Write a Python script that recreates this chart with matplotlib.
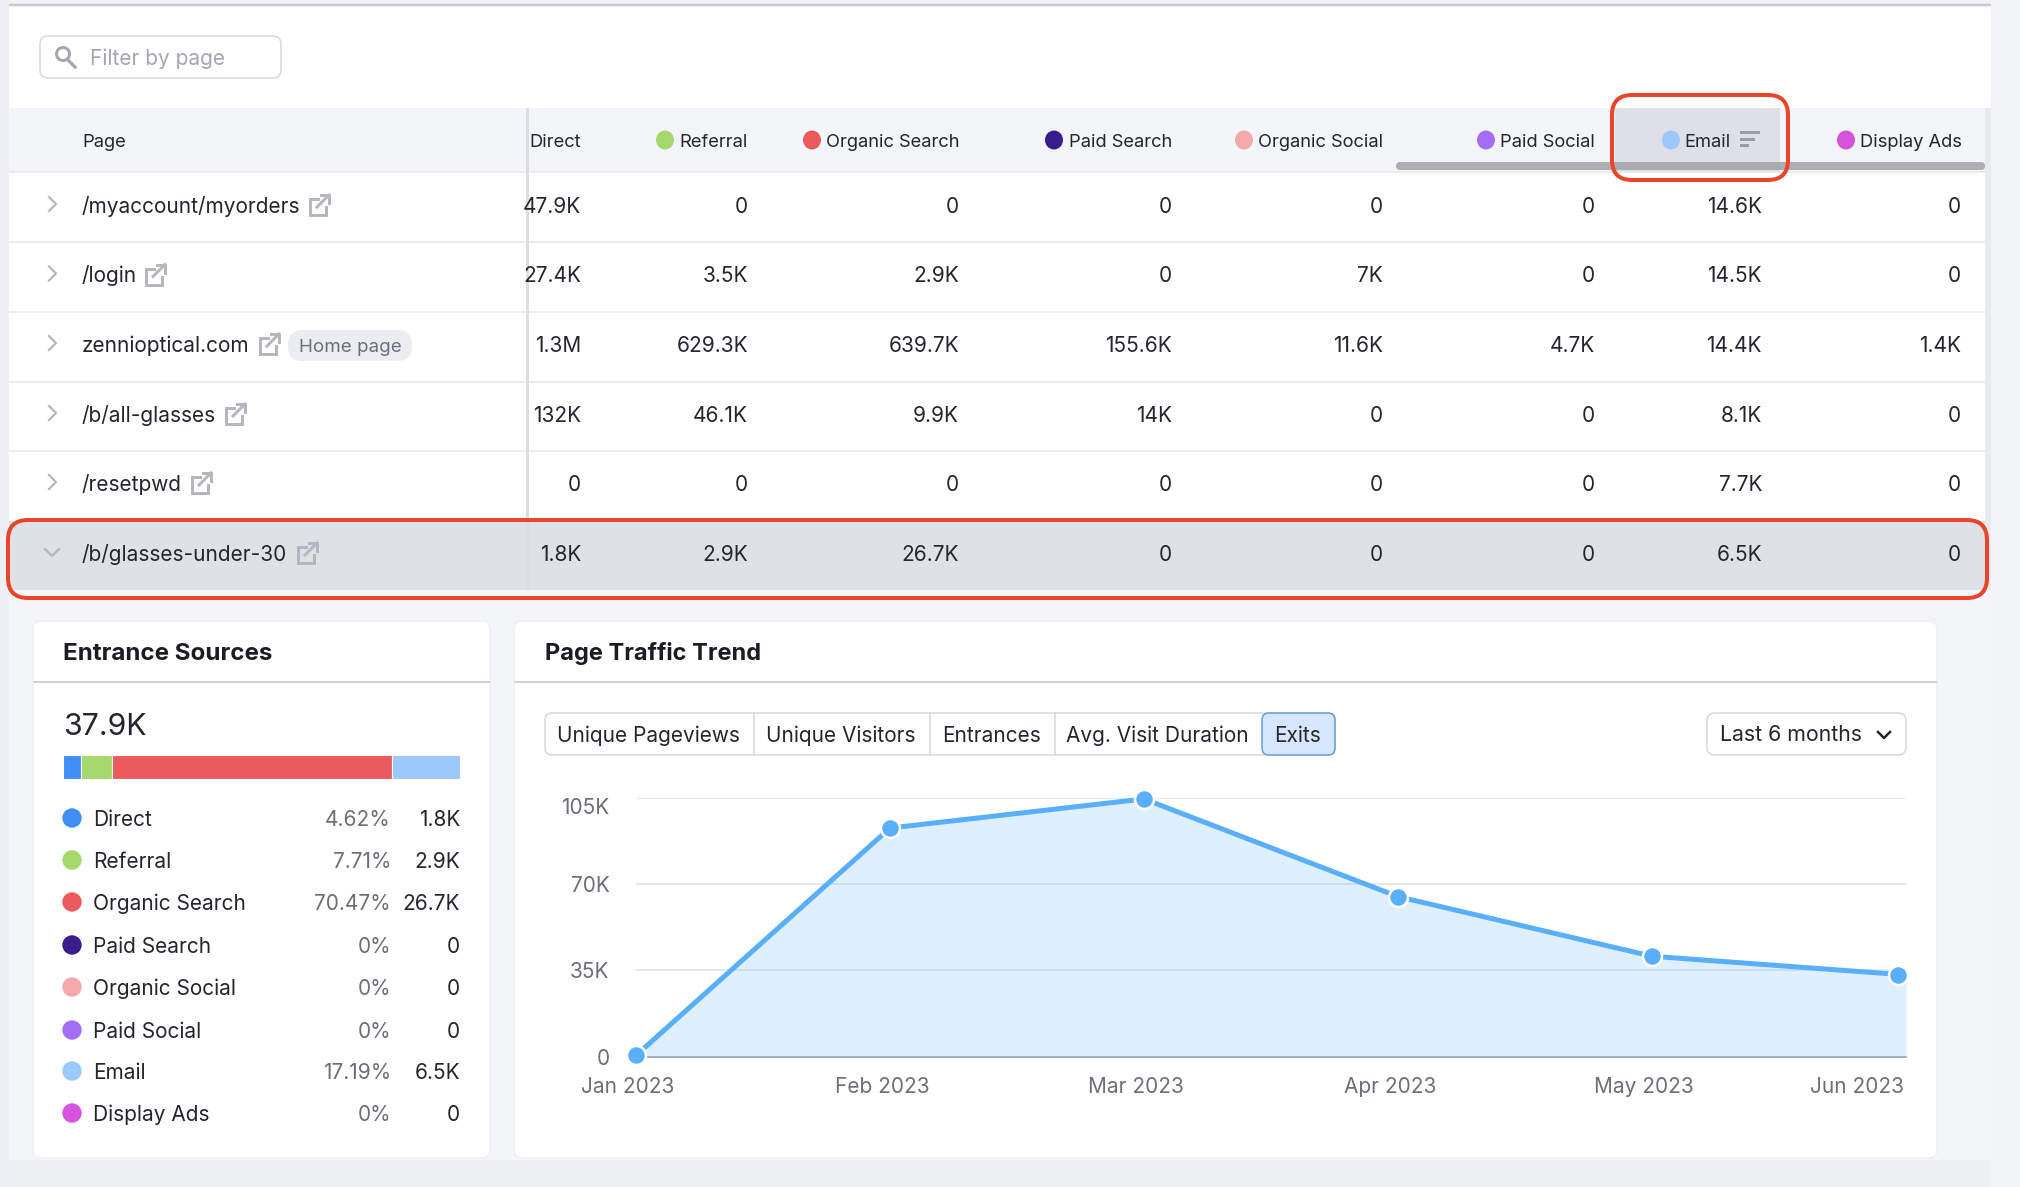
import numpy as np
import matplotlib
matplotlib.use('Agg')
import matplotlib.pyplot as plt
from matplotlib.patches import FancyBboxPatch, Rectangle, Circle, Ellipse
from matplotlib.transforms import ScaledTranslation

plt.rcParams['font.family'] = ['Inter', 'DejaVu Sans']

# table data
pages = ['/myaccount/myorders', '/login', 'zennioptical.com', '/b/all-glasses', '/resetpwd', '/b/glasses-under-30']
columns = ['Direct', 'Referral', 'Organic Search', 'Paid Search', 'Organic Social', 'Paid Social', 'Email', 'Display Ads']
direct = ['47.9K', '27.4K', '1.3M', '132K', '0', '1.8K']
referral = ['0', '3.5K', '629.3K', '46.1K', '0', '2.9K']
organic_search = ['0', '2.9K', '639.7K', '9.9K', '0', '26.7K']
paid_search = ['0', '0', '155.6K', '14K', '0', '0']
organic_social = ['0', '7K', '11.6K', '0', '0', '0']
paid_social = ['0', '0', '4.7K', '0', '0', '0']
email = ['14.6K', '14.5K', '14.4K', '8.1K', '7.7K', '6.5K']
display_ads = ['0', '0', '1.4K', '0', '0', '0']
table_values = [direct, referral, organic_search, paid_search, organic_social, paid_social, email, display_ads]

# entrance sources
source_total = '37.9K'
source_pct = [4.62, 7.71, 70.47, 0, 0, 0, 17.19, 0]
source_pct_labels = ['4.62%', '7.71%', '70.47%', '0%', '0%', '0%', '17.19%', '0%']
source_counts = ['1.8K', '2.9K', '26.7K', '0', '0', '0', '6.5K', '0']
source_colors = ['#3f8ff7', '#a7d86d', '#eb5a5c', '#3a1d8c', '#f4a9ab', '#a56ff5', '#9cc9fb', '#d654dc']

# trend
months = ['Jan 2023', 'Feb 2023', 'Mar 2023', 'Apr 2023', 'May 2023', 'Jun 2023']
exits = [500, 92700, 104500, 64900, 40700, 33100]
y_ticks = [0, 35000, 70000, 105000]
y_labels = ['0', '35K', '70K', '105K']
tabs = ['Unique Pageviews', 'Unique Visitors', 'Entrances', 'Avg. Visit Duration', 'Exits']

W, H = 2020, 1187
INK = '#24252e'
GREY = '#6c6e79'
RED = '#e8452a'
px = 0.72  # one pixel in points at dpi 100

fig = plt.figure(figsize=(W / 100, H / 100), dpi=100, facecolor='#f4f5f9')
bg = fig.add_axes([0, 0, 1, 1])
bg.set_xlim(0, W)
bg.set_ylim(H, 0)
bg.axis('off')


def txt(x, yc, s, size=15, color=INK, ha='left', weight='normal', zorder=5):
    bg.text(x, yc + 7.8 * size / 15, s, fontsize=size, color=color, ha=ha, va='baseline',
            fontweight=weight, zorder=zorder)


def rbox(x0, y0, x1, y1, r, fc='none', ec='none', lw=1, zorder=2):
    bg.add_patch(FancyBboxPatch((x0, y0), x1 - x0, y1 - y0, boxstyle=f'round,pad=0,rounding_size={r}',
                                fc=fc, ec=ec, lw=lw * px, zorder=zorder))


def rect(x0, y0, x1, y1, color, zorder=1):
    bg.add_patch(Rectangle((x0, y0), x1 - x0, y1 - y0, fc=color, ec='none', zorder=zorder))


def hline(x0, x1, y, color, lw=1.5, zorder=2):
    bg.plot([x0, x1], [y, y], color=color, lw=lw * px, zorder=zorder, solid_capstyle='butt')


def dot(x, y, color, r=9.7):
    bg.add_patch(Circle((x, y), r, fc=color, ec='none', zorder=5))


def link_icon(x, yc):
    c = '#b4b6c0'
    bg.plot([x + 9, x + 1, x + 1, x + 17, x + 17], [yc - 6, yc - 6, yc + 10, yc + 10, yc + 2],
            color=c, lw=3 * px, zorder=5, solid_joinstyle='miter')
    bg.plot([x + 8, x + 20], [yc + 2, yc - 10], color=c, lw=3 * px, zorder=5)
    bg.plot([x + 12, x + 20, x + 20], [yc - 10, yc - 10, yc - 2], color=c, lw=3 * px, zorder=5)


# page frame
rect(0, 0, 9, H, '#eff0f5')
rect(1991, 0, W, H, '#f3f4f8')
rect(9, 0, 1991, 6, '#f2f3f6')
rect(9, 6, 1991, 590, 'white')
hline(9, 1991, 5, '#c8cad2', lw=2.5)
rect(9, 1160, 1991, H, '#eff0f4')

# filter box
rbox(40, 36, 281, 78, 8, fc='white', ec='#d6d8df', lw=1.5)
bg.add_patch(Circle((63, 54), 6.5, fc='none', ec='#a4a6b0', lw=3 * px, zorder=5))
bg.plot([68, 75], [60, 67], color='#a4a6b0', lw=3.2 * px, zorder=5)
txt(90, 57, 'Filter by page', color='#a4a6b0')

# table header
rect(9, 108, 1991, 172, '#f4f5f9')
rect(1615, 108, 1780, 172, '#dfe0e7')
txt(82, 140, 'Page', size=13.2)
col_right = [581, 748, 959, 1172, 1383, 1595, 1762, 1961]
head_right = [581, 748, 959, 1172, 1383, 1595, 1731, 1962]
dot_x = [None, 665, 812, 1054, 1244, 1486, 1671, 1846]
for j, name in enumerate(columns):
    txt(head_right[j], 140, name, size=13.2, ha='right')
    if dot_x[j] is not None:
        bg.add_patch(Ellipse((dot_x[j], 140), 18, 19, fc=source_colors[j], ec='none', zorder=5))
for y, x1 in zip([132, 138.5, 145], [1758, 1753, 1747]):
    bg.plot([1741, x1], [y, y], color='#9a9ca6', lw=3 * px, zorder=5)
rbox(1396, 162, 1985, 170, 4, fc='#9d9ea3', zorder=4)
bg.patches[-1].set_alpha(0.8)

# table rows
row_y = [205, 274.5, 344, 414, 483, 553]
icon_x = [309, 145, 259, 225, 191, 297]
for y in [172, 241.5, 312, 382, 451]:
    hline(9, 1991, y, '#e6e7eb')
rect(9, 521, 1991, 590, '#e0e1e7')
for i, page in enumerate(pages):
    y = row_y[i]
    if i == 5:
        bg.plot([45, 52, 59], [y - 4, y + 3, y - 4], color='#b4b6c0', lw=2.2 * px, zorder=5)
    else:
        bg.plot([49, 56, 49], [y - 8, y - 1, y + 6], color='#b4b6c0', lw=2.2 * px, zorder=5)
    txt(82, y, page)
    link_icon(icon_x[i], y)
    for j, col in enumerate(table_values):
        txt(col_right[j], y, col[i], ha='right')
rbox(288, 330, 412, 361, 15, fc='#ecedf2', zorder=3)
txt(350, 345, 'Home page', size=13.5, color=GREY, ha='center')

# frozen column edge
rect(526, 108, 529, 590, '#dcdde3', zorder=3)
rect(1985, 108, 1991, 590, '#eaebef', zorder=3)

# red highlights
rbox(1612, 95, 1788, 180, 20, ec=RED, lw=4, zorder=6)
rbox(8, 520, 1987, 598, 20, ec=RED, lw=4, zorder=6)

# entrance sources card
rbox(33, 621, 490, 1158, 8, fc='white', ec='#eeeff3', lw=1.5)
txt(63, 651, 'Entrance Sources', size=17.4, weight='bold', color='#1b1c24')
hline(33, 490, 682, '#cfd1d8', lw=2)
txt(63, 724, source_total, size=21.8)
for i, label in enumerate(columns):
    y = [818, 860, 902, 945, 987, 1030, 1071, 1113][i]
    dot(72, y, source_colors[i])
    txt(93, y, label)
    txt(391, y, source_pct_labels[i], color=GREY, ha='right')
    txt(460, y, source_counts[i], ha='right')

bar_ax = fig.add_axes([63 / W, 1 - 779 / H, 397 / W, 24 / H])
bar_ax.axis('off')
left = 0
for pct, c in zip(source_pct, source_colors):
    if pct > 0:
        bar_ax.barh(0, pct, left=left, height=1, color=c, edgecolor='white', linewidth=0.8)
    left += pct
bar_ax.set_xlim(0, sum(source_pct))
bar_ax.set_ylim(-0.5, 0.5)

# trend card
rbox(514, 621, 1937, 1158, 8, fc='white', ec='#eeeff3', lw=1.5)
txt(545, 651, 'Page Traffic Trend', size=17, weight='bold', color='#1b1c24')
hline(514, 1937, 682, '#cfd1d8', lw=2)

tab_edges = [545, 754, 930, 1055, 1262, 1335]
rbox(545, 713, 1335, 755, 7, fc='white', ec='#d6d8df', lw=1.5)
rbox(1262, 713, 1335, 755, 7, fc='#d6e7fd', ec='#6a9be0', lw=1.5, zorder=3)
for i, tab in enumerate(tabs):
    txt((tab_edges[i] + tab_edges[i + 1]) / 2 - 1, 734, tab, ha='center')
    if 0 < i < 4:
        bg.plot([tab_edges[i]] * 2, [713, 755], color='#d6d8df', lw=1.5 * px, zorder=3)
rbox(1707, 713, 1906, 755, 8, fc='white', ec='#d6d8df', lw=1.5)
txt(1720, 733, 'Last 6 months', size=15.3)
bg.plot([1878, 1884, 1890], [732, 738, 732], color=INK, lw=2.5 * px, zorder=5)

# trend chart
ax = fig.add_axes([636 / W, 1 - 1056.6 / H, 1270 / W, 258.9 / H], zorder=3)
ax.patch.set_alpha(0)
x = np.arange(len(months))
ax.set_xlim(0, 5)
ax.set_ylim(0, 105000)
ax.fill_between(x, exits, color='#5aaffa', alpha=0.2, lw=0, zorder=3)
ax.plot(x, exits, color='#5aaffa', lw=5 * px, zorder=4, clip_on=False)
ax.plot(x[:5], exits[:5], ls='none', marker='o', ms=19 * px, mfc='#5aaffa', mec='white', mew=2.5 * px,
        zorder=5, clip_on=False)
# last point sits a little inside the plot edge
shift = ScaledTranslation(-8 / 100, 0, fig.dpi_scale_trans)
ax.plot(x[5:], exits[5:], ls='none', marker='o', ms=19 * px, mfc='#5aaffa', mec='white', mew=2.5 * px,
        zorder=5, clip_on=False, transform=ax.transData + shift)
for s in ['top', 'left', 'right']:
    ax.spines[s].set_visible(False)
ax.spines['bottom'].set_color('#aab5c5')
ax.spines['bottom'].set_linewidth(2 * px)
ax.set_yticks(y_ticks, y_labels)
ax.set_xticks(x, months)
ax.grid(axis='y', color='#e6e9ec', lw=2 * px, zorder=1)
ax.set_axisbelow(True)
ax.tick_params(axis='both', length=0, labelsize=15, labelcolor=GREY)
ax.tick_params(axis='y', pad=19)
ax.tick_params(axis='x', pad=15)
for lab in ax.get_xticklabels():
    lab.set_transform(lab.get_transform() + ScaledTranslation(-8 / 100, 0, fig.dpi_scale_trans))
last = ax.get_xticklabels()[-1]
last.set_ha('right')
last.set_transform(last.get_transform() + ScaledTranslation(6 / 100, 0, fig.dpi_scale_trans))
top = ax.get_yticklabels()[-1]
top.set_transform(top.get_transform() + ScaledTranslation(0, -8 / 100, fig.dpi_scale_trans))

fig.savefig('out.png', dpi=100, facecolor=fig.get_facecolor())
